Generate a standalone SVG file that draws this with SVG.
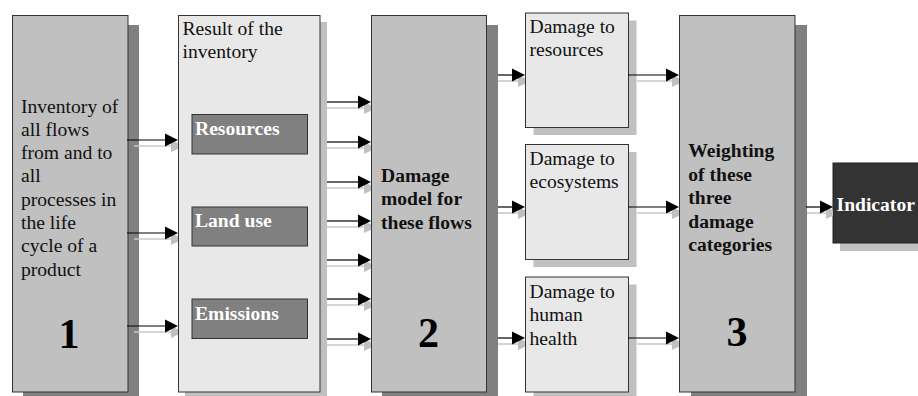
<svg xmlns="http://www.w3.org/2000/svg" xmlns:xlink="http://www.w3.org/1999/xlink" width="918" height="396" viewBox="0 0 918 396">
<style>
.t{font-family:"Liberation Serif","Times New Roman",serif;font-size:19.6px;fill:#111}
.b{font-weight:bold}
.w{fill:#fff;font-weight:bold}
.num{font-family:"Liberation Serif","Times New Roman",serif;font-size:42px;font-weight:bold;fill:#000;text-anchor:middle}
.dk{fill:#c0c0c0;stroke:#333;stroke-width:1}
.lt{fill:#e8e8e8;stroke:#333;stroke-width:1}
.inner{fill:#808080;stroke:#333;stroke-width:1}
.sd{fill:#808080}
.sl{fill:#c0c0c0}
.ln{stroke:#000;stroke-width:1.2}
.sln{stroke:#c8c8c8;stroke-width:1.6}
.hd{fill:#000}
.shd{fill:#c0c0c0}
</style>
<defs>
<path id="head" d="M-13,-6.5 L0,0 L-13,6.5Z"/>
<path id="shead" d="M-7,0 L0,3.2 L0,8.8 L-7,12Z"/>
</defs>
<rect width="918" height="396" fill="#fff"/>

<g id="box1">
<rect class="sd" x="23" y="25" width="116" height="380"/>
<rect class="dk" x="12.5" y="15.5" width="115.5" height="376.5"/>
<text class="t"><tspan x="21" y="112.5">Inventory of</tspan><tspan x="21" y="135.8">all flows</tspan><tspan x="21" y="159.1">from and to</tspan><tspan x="21" y="182.4">all</tspan><tspan x="21" y="205.7">processes in</tspan><tspan x="21" y="229">the life</tspan><tspan x="21" y="252.3">cycle of a</tspan><tspan x="21" y="275.6">product</tspan></text>
<text class="num" x="69" y="347.5">1</text>
</g>

<g id="box2">
<rect class="sl" x="185" y="22" width="142" height="380"/>
<rect class="lt" x="178.5" y="15.5" width="141.5" height="376.5"/>
<text class="t"><tspan x="182.5" y="35">Result of the</tspan><tspan x="182.5" y="58.3">inventory</tspan></text>
</g>
<g id="resources">
<rect class="inner" x="192" y="114.5" width="115.5" height="39.5"/>
<text class="t w" x="195" y="135">Resources</text>
</g>
<g id="landuse">
<rect class="inner" x="192" y="207" width="115.5" height="39"/>
<text class="t w" x="195" y="227.3">Land use</text>
</g>
<g id="emissions">
<rect class="inner" x="192" y="299" width="115.5" height="39.5"/>
<text class="t w" x="195" y="320">Emissions</text>
</g>

<g id="box3">
<rect class="sd" x="382" y="25" width="116" height="380"/>
<rect class="dk" x="371.5" y="15.5" width="115" height="376.5"/>
<text class="t b"><tspan x="381" y="181.7">Damage</tspan><tspan x="381" y="205">model for</tspan><tspan x="381" y="228.6">these flows</tspan></text>
<text class="num" x="428.5" y="346.5">2</text>
</g>

<g id="dmg-resources">
<rect class="sl" x="533.5" y="20.5" width="103" height="114.5"/>
<rect class="lt" x="525.5" y="13" width="103" height="114.5"/>
<text class="t"><tspan x="529.5" y="32.5">Damage to</tspan><tspan x="529.5" y="56.3">resources</tspan></text>
</g>
<g id="dmg-ecosystems">
<rect class="sl" x="533.5" y="152" width="103" height="115"/>
<rect class="lt" x="525.5" y="144.5" width="103" height="115"/>
<text class="t"><tspan x="529.5" y="165">Damage to</tspan><tspan x="529.5" y="188.3">ecosystems</tspan></text>
</g>
<g id="dmg-health">
<rect class="sl" x="533.5" y="284.5" width="103" height="115"/>
<rect class="lt" x="525.5" y="277" width="103" height="115"/>
<text class="t"><tspan x="529.5" y="297.7">Damage to</tspan><tspan x="529.5" y="321">human</tspan><tspan x="529.5" y="344.5">health</tspan></text>
</g>

<g id="box4">
<rect class="sd" x="691" y="25" width="116" height="380"/>
<rect class="dk" x="679.5" y="15.5" width="115.5" height="376.5"/>
<text class="t b"><tspan x="688.3" y="157.3">Weighting</tspan><tspan x="688.3" y="180.8">of these</tspan><tspan x="688.3" y="204.3">three</tspan><tspan x="688.3" y="227.8">damage</tspan><tspan x="688.3" y="251.3">categories</tspan></text>
<text class="num" x="737" y="345.5">3</text>
</g>

<g id="indicator">
<rect class="sl" x="840" y="171" width="100" height="80"/>
<rect x="833" y="163" width="100" height="80" fill="#333" stroke="#222" stroke-width="1"/>
<text class="t w" x="836.5" y="210.5">Indicator</text>
</g>

<g id="connectors">
<!-- box1 -> box2 -->
<line class="sln" x1="134" y1="146" x2="171" y2="146"/><use href="#shead" class="shd" x="178" y="140"/><line class="ln" x1="127" y1="140" x2="166" y2="140"/><use href="#head" class="hd" x="178" y="140"/>
<line class="sln" x1="134" y1="239" x2="171" y2="239"/><use href="#shead" class="shd" x="178" y="233"/><line class="ln" x1="127" y1="233" x2="166" y2="233"/><use href="#head" class="hd" x="178" y="233"/>
<line class="sln" x1="134" y1="332" x2="171" y2="332"/><use href="#shead" class="shd" x="178" y="326"/><line class="ln" x1="127" y1="326" x2="166" y2="326"/><use href="#head" class="hd" x="178" y="326"/>
<!-- box2 -> box3 -->
<line class="sln" x1="327" y1="108" x2="364" y2="108"/><use href="#shead" class="shd" x="371" y="102"/><line class="ln" x1="327" y1="102" x2="359" y2="102"/><use href="#head" class="hd" x="371" y="102"/>
<line class="sln" x1="327" y1="148" x2="364" y2="148"/><use href="#shead" class="shd" x="371" y="142"/><line class="ln" x1="327" y1="142" x2="359" y2="142"/><use href="#head" class="hd" x="371" y="142"/>
<line class="sln" x1="327" y1="188" x2="364" y2="188"/><use href="#shead" class="shd" x="371" y="182"/><line class="ln" x1="327" y1="182" x2="359" y2="182"/><use href="#head" class="hd" x="371" y="182"/>
<line class="sln" x1="327" y1="227" x2="364" y2="227"/><use href="#shead" class="shd" x="371" y="221"/><line class="ln" x1="327" y1="221" x2="359" y2="221"/><use href="#head" class="hd" x="371" y="221"/>
<line class="sln" x1="327" y1="266" x2="364" y2="266"/><use href="#shead" class="shd" x="371" y="260"/><line class="ln" x1="327" y1="260" x2="359" y2="260"/><use href="#head" class="hd" x="371" y="260"/>
<line class="sln" x1="327" y1="305" x2="364" y2="305"/><use href="#shead" class="shd" x="371" y="299"/><line class="ln" x1="327" y1="299" x2="359" y2="299"/><use href="#head" class="hd" x="371" y="299"/>
<line class="sln" x1="327" y1="345" x2="364" y2="345"/><use href="#shead" class="shd" x="371" y="339"/><line class="ln" x1="327" y1="339" x2="359" y2="339"/><use href="#head" class="hd" x="371" y="339"/>
<!-- box3 -> damage boxes -->
<line class="sln" x1="498" y1="81" x2="518" y2="81"/><use href="#shead" class="shd" x="525" y="75"/><line class="ln" x1="498" y1="75" x2="513" y2="75"/><use href="#head" class="hd" x="525" y="75"/>
<line class="sln" x1="498" y1="213" x2="518" y2="213"/><use href="#shead" class="shd" x="525" y="207"/><line class="ln" x1="498" y1="207" x2="513" y2="207"/><use href="#head" class="hd" x="525" y="207"/>
<line class="sln" x1="498" y1="344" x2="518" y2="344"/><use href="#shead" class="shd" x="525" y="338"/><line class="ln" x1="498" y1="338" x2="513" y2="338"/><use href="#head" class="hd" x="525" y="338"/>
<!-- damage boxes -> box4 -->
<line class="sln" x1="637" y1="81" x2="672" y2="81"/><use href="#shead" class="shd" x="679" y="75"/><line class="ln" x1="628" y1="75" x2="667" y2="75"/><use href="#head" class="hd" x="679" y="75"/>
<line class="sln" x1="637" y1="213" x2="672" y2="213"/><use href="#shead" class="shd" x="679" y="207"/><line class="ln" x1="628" y1="207" x2="667" y2="207"/><use href="#head" class="hd" x="679" y="207"/>
<line class="sln" x1="637" y1="344" x2="672" y2="344"/><use href="#shead" class="shd" x="679" y="338"/><line class="ln" x1="628" y1="338" x2="667" y2="338"/><use href="#head" class="hd" x="679" y="338"/>
<!-- box4 -> indicator -->
<line class="sln" x1="807" y1="213" x2="826" y2="213"/><use href="#shead" class="shd" x="833" y="207"/><line class="ln" x1="806" y1="207" x2="821" y2="207"/><use href="#head" class="hd" x="833" y="207"/>
</g>
</svg>
